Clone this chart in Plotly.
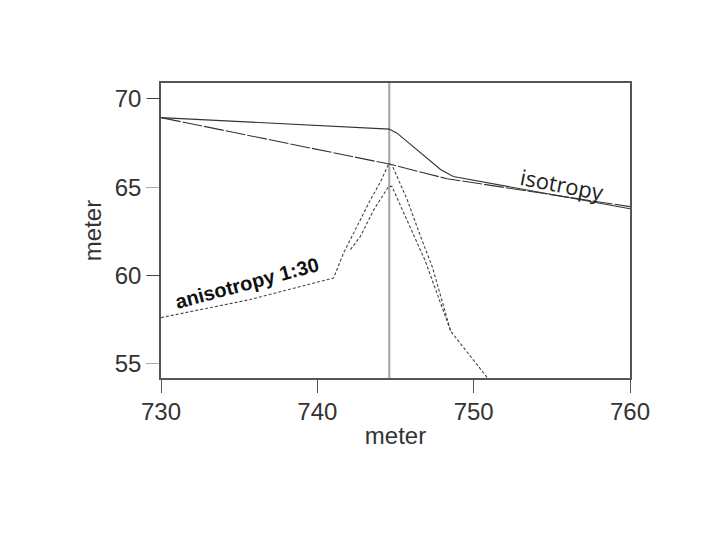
import plotly.graph_objects as go

# isotropy curves
iso_a_x = [730, 744.6, 748.3, 760]
iso_a_y = [68.94, 66.31, 65.48, 63.90]
iso_b_x = [730, 744.6, 745.1, 746.4, 747.9, 748.7, 760]
iso_b_y = [68.94, 68.29, 68.06, 67.12, 65.99, 65.61, 63.78]

# anisotropy 1:30 curves
ani_a_x = [730, 735.7, 741.04, 741.68, 742.54, 743.4, 744.04, 744.57, 744.77, 745.75, 746.6, 747.37, 748.53, 750.96]
ani_a_y = [57.62, 58.64, 59.86, 61.28, 62.79, 64.29, 65.31, 66.33, 66.27, 64.29, 62.22, 60.45, 56.85, 54.12]
ani_b_x = [742.12, 742.76, 743.61, 744.57, 744.77, 745.53, 746.39, 746.92, 748.53]
ani_b_y = [61.47, 62.22, 63.73, 65.05, 65.05, 63.54, 61.85, 60.79, 56.85]

section_x = 744.6

x_ticks = [730, 740, 750, 760]
y_ticks = [55, 60, 65, 70]
y_major = [60, 70]

fig = go.Figure()
fig.add_trace(go.Scatter(x=iso_a_x, y=iso_a_y, mode="lines",
                         line=dict(color="#333333", width=1.1, dash="20px,2px"), showlegend=False))
fig.add_trace(go.Scatter(x=iso_b_x, y=iso_b_y, mode="lines",
                         line=dict(color="#333333", width=1.1), showlegend=False))
fig.add_trace(go.Scatter(x=ani_a_x, y=ani_a_y, mode="lines",
                         line=dict(color="#444444", width=1.1, dash="3px,2px"), showlegend=False))
fig.add_trace(go.Scatter(x=ani_b_x, y=ani_b_y, mode="lines",
                         line=dict(color="#444444", width=1.1, dash="3px,2px"), showlegend=False))
# invisible trace to hold the dark major-tick overlay axis
fig.add_trace(go.Scatter(x=[730], y=[60], mode="lines", yaxis="y2",
                         line=dict(width=0), showlegend=False, hoverinfo="skip"))

fig.add_vline(x=section_x, line=dict(color="#aaaaaa", width=2.2), layer="below")

tickfont = dict(family="Liberation Sans, Arial, sans-serif", size=24, color="#333333")

fig.add_annotation(x=755.7, y=65.2, text="isotropy", showarrow=False, textangle=11,
                   font=dict(family="Open Sans, sans-serif", size=22, color="#222222"))
fig.add_annotation(x=735.5, y=59.6, text="<b>anisotropy 1:30</b>", showarrow=False, textangle=-15,
                   font=dict(family="Liberation Sans, Arial, sans-serif", size=20, color="#111111"))

fig.update_layout(
    width=712, height=532,
    margin=dict(l=153, r=90, t=75, b=162),
    paper_bgcolor="white", plot_bgcolor="white",
    xaxis=dict(range=[730, 760], tickvals=x_ticks, ticks="outside", ticklen=13,
               tickcolor="#555555", tickwidth=1.2, showgrid=False, zeroline=False,
               showline=True, linecolor="#555555", linewidth=1.5, mirror=True,
               tickfont=tickfont, ticklabelstandoff=-2,
               title=dict(text="meter", font=tickfont, standoff=4)),
    yaxis=dict(range=[54.2, 70.9], tickvals=y_ticks, ticks="outside", ticklen=13,
               tickcolor="#aaaaaa", tickwidth=1.2, showgrid=False, zeroline=False,
               showline=True, linecolor="#555555", linewidth=1.5, mirror=True,
               tickfont=tickfont,
               title=dict(text="meter", font=tickfont, standoff=6)),
    yaxis2=dict(range=[54.2, 70.9], overlaying="y", side="left", tickvals=y_major,
                ticks="outside", ticklen=13, tickcolor="#444444", tickwidth=1.2,
                showticklabels=False, showgrid=False, zeroline=False, showline=False),
)

fig.write_html("out.html")
